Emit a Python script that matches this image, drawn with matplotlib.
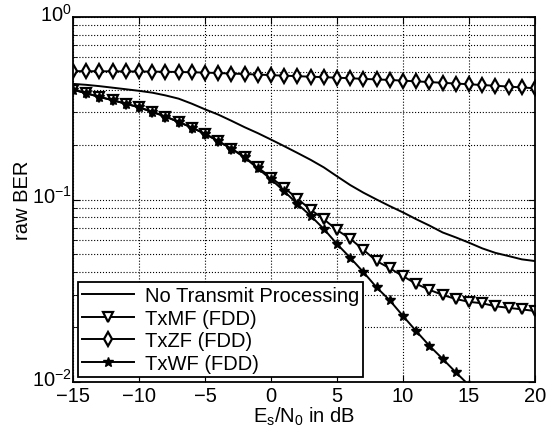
import numpy as np
import matplotlib
matplotlib.use('Agg')
import matplotlib.pyplot as plt
import matplotlib.transforms as mtransforms
from matplotlib.ticker import LogLocator, FixedLocator

plt.rcParams['font.family'] = ['Liberation Sans', 'DejaVu Sans']
plt.rcParams['mathtext.fontset'] = 'custom'
plt.rcParams['mathtext.rm'] = 'Liberation Sans'
plt.rcParams['mathtext.it'] = 'Liberation Sans:italic'
plt.rcParams['mathtext.default'] = 'regular'

# Es/N0 in dB
snr_db = np.arange(-15, 21)

# No Transmit Processing (1 dB steps)
ber_none = [0.430, 0.425, 0.418, 0.410, 0.402, 0.394, 0.385, 0.372, 0.357, 0.335,
            0.312, 0.292, 0.270, 0.249, 0.231, 0.213, 0.196, 0.180, 0.165, 0.150,
            0.134, 0.120, 0.109, 0.100, 0.092, 0.085, 0.078, 0.072, 0.066, 0.062,
            0.058, 0.054, 0.051, 0.049, 0.047, 0.046]

# TxMF (FDD)
ber_txmf = [0.400, 0.382, 0.365, 0.350, 0.335, 0.320, 0.302, 0.285, 0.266, 0.248,
            0.229, 0.209, 0.190, 0.171, 0.150, 0.132, 0.116, 0.101, 0.088, 0.078,
            0.068, 0.061, 0.053, 0.046, 0.042, 0.038, 0.0345, 0.032, 0.030, 0.0285,
            0.0275, 0.027, 0.026, 0.0255, 0.025, 0.0245]

# TxZF (FDD)
ber_txzf = [0.505, 0.505, 0.504, 0.504, 0.503, 0.503, 0.502, 0.501, 0.500, 0.498,
            0.496, 0.493, 0.490, 0.487, 0.484, 0.480, 0.477, 0.474, 0.471, 0.468,
            0.465, 0.462, 0.458, 0.455, 0.452, 0.448, 0.444, 0.440, 0.436, 0.432,
            0.428, 0.424, 0.420, 0.416, 0.411, 0.407]

# TxWF (FDD), stops where it leaves the plot
snr_txwf = np.arange(-15, 16)
ber_txwf = [0.400, 0.382, 0.365, 0.350, 0.335, 0.320, 0.302, 0.285, 0.266, 0.248,
            0.229, 0.209, 0.190, 0.170, 0.148, 0.129, 0.111, 0.0945, 0.0815, 0.069,
            0.057, 0.048, 0.040, 0.033, 0.028, 0.023, 0.019, 0.0158, 0.0134, 0.0113,
            0.0096]

fig = plt.figure(figsize=(5.51, 4.35), dpi=100)
ax = fig.add_axes([0.1325, 0.1195, 0.8385, 0.8391])

ax.semilogy(snr_db, ber_none, color='black', lw=1.4, label='No Transmit Processing')
ax.semilogy(snr_db, ber_txmf, color='black', lw=1.4, marker='v', ms=6.5,
            mfc='white', mec='black', mew=1.6, label='TxMF (FDD)')
ax.semilogy(snr_db, ber_txzf, color='black', lw=1.4, marker='d', ms=7.5,
            mfc='white', mec='black', mew=1.6, label='TxZF (FDD)')
ax.semilogy(snr_txwf, ber_txwf, color='black', lw=1.4, marker='*', ms=7,
            mfc='black', mec='black', label='TxWF (FDD)')

ax.set_xlim(-15, 20)
ax.set_ylim(1e-2, 1e0)
ax.xaxis.set_major_locator(FixedLocator([-15, -10, -5, 0, 5, 10, 15, 20]))
ax.yaxis.set_major_locator(LogLocator(base=10, numticks=5))
ax.yaxis.set_minor_locator(LogLocator(base=10, subs=np.arange(2, 10), numticks=20))

ax.grid(True, which='major', linestyle=':', color='black', lw=0.8)
ax.grid(True, which='minor', axis='y', linestyle=':', color='black', lw=0.8)
ax.tick_params(which='both', direction='in', top=True, right=True, labelsize=14.5)
ax.tick_params(which='major', length=5)
ax.tick_params(which='minor', length=3)
ax.tick_params(axis='x', pad=3)
ax.tick_params(axis='y', pad=1)
ax.yaxis.set_minor_formatter(plt.NullFormatter())
for s in ax.spines.values():
    s.set_linewidth(1.3)

# y tick labels sit a little above their ticks, as in the original
shift = mtransforms.ScaledTranslation(0, 4 / 72, fig.dpi_scale_trans)
for lbl in ax.get_yticklabels():
    lbl.set_transform(lbl.get_transform() + shift)

ax.set_xlabel('E$_s$/N$_0$ in dB', fontsize=14.5, labelpad=0)
ax.set_ylabel('raw BER', fontsize=14.5, labelpad=0)

leg = ax.legend(loc='lower left', fontsize=14.5, frameon=True, fancybox=False,
                edgecolor='black', framealpha=1, borderpad=0.2, labelspacing=0.18,
                handlelength=2.6, handletextpad=0.5, borderaxespad=0.25)
leg.get_frame().set_linewidth(1.3)

fig.savefig('out.png', dpi=100)
